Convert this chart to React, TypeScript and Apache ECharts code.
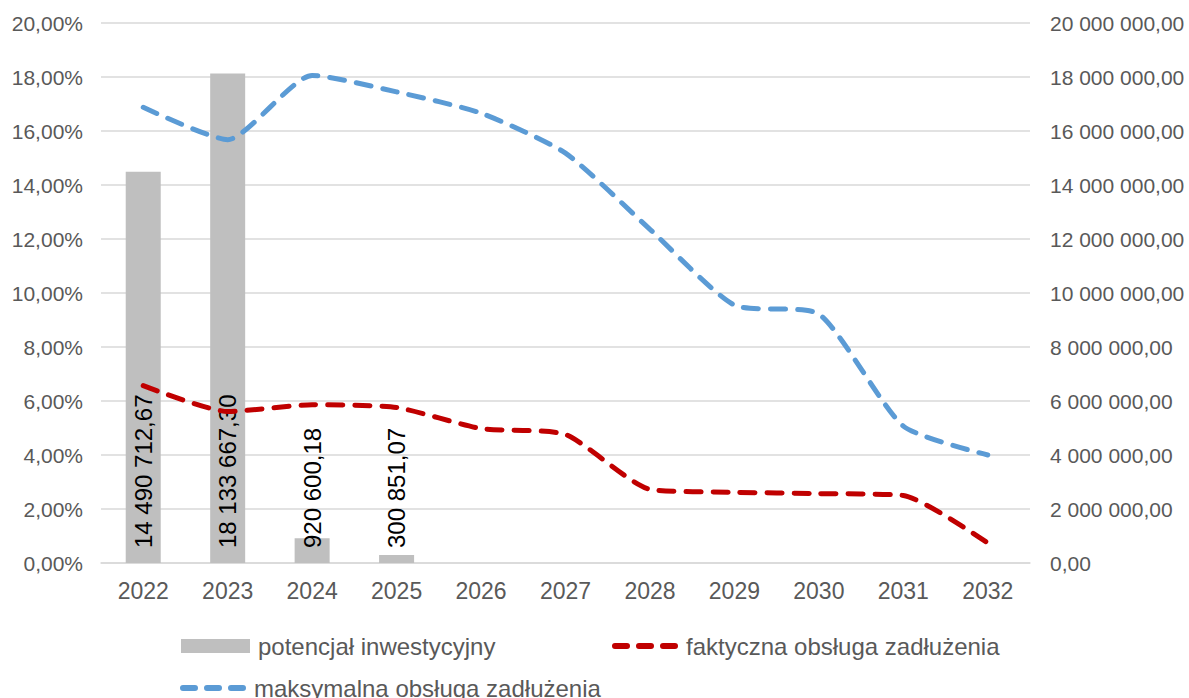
import React, { useEffect, useRef } from "react";
import * as echarts from "echarts";

const categories = ["2022", "2023", "2024", "2025", "2026", "2027", "2028", "2029", "2030", "2031", "2032"];
const potencjal = [14490712.67, 18133667.3, 920600.18, 300851.07, null, null, null, null, null, null, null];
const faktyczna = [6.57, 5.61, 5.86, 5.76, 4.98, 4.76, 2.73, 2.62, 2.57, 2.5, 0.74];
const maksymalna = [16.88, 15.68, 18.06, 17.45, 16.66, 15.18, 12.36, 9.55, 9.22, 5.07, 4.0];

const FONT = "Liberation Sans, Arial, sans-serif";
const GREY = "#595959";

const cap = (x: number) =>
  `M${x + 3},0 h12 a3,3 0 0 1 0,6 h-12 a3,3 0 0 1 0,-6 z`;
const DASH_ICON = "path://" + cap(0) + " " + cap(24) + " " + cap(48);

function fmtMoney(v: number): string {
  const fixed = Math.abs(v).toFixed(2);
  const [int, dec] = fixed.split(".");
  const withSp = int.replace(/\B(?=(\d{3})+(?!\d))/g, " ");
  return withSp + "," + dec;
}

export default function App() {
  const ref = useRef<HTMLDivElement>(null);
  useEffect(() => {
    if (!ref.current) return;
    const chart = echarts.init(ref.current, null, { renderer: "svg" });
    const dash = [15, 12];
    const legText = { color: GREY, fontSize: 24, fontFamily: FONT, padding: [0, 0, 0, 3] };
    chart.setOption({
      animation: false,
      backgroundColor: "#ffffff",
      textStyle: { fontFamily: FONT },
      grid: { left: 101, right: 159, top: 23, bottom: 135 },
      legend: [
        {
          data: [{ name: "potencjał inwestycyjny", icon: "rect" }],
          left: 176, top: 629, itemWidth: 69, itemHeight: 14,
          textStyle: legText,
        },
        {
          data: [{ name: "faktyczna obsługa zadłużenia", icon: DASH_ICON }],
          left: 607, top: 629, itemWidth: 66, itemHeight: 6,
          textStyle: legText,
        },
        {
          data: [{ name: "maksymalna obsługa zadłużenia", icon: DASH_ICON }],
          left: 175, top: 671, itemWidth: 66, itemHeight: 6,
          textStyle: legText,
        },
      ],
      xAxis: {
        type: "category",
        data: categories,
        axisLine: { lineStyle: { color: "#D9D9D9", width: 1.5 } },
        axisTick: { show: false },
        axisLabel: { color: GREY, fontSize: 23, margin: 16, fontFamily: FONT },
      },
      yAxis: [
        {
          type: "value",
          min: 0, max: 20, interval: 2,
          axisLabel: {
            color: GREY, fontSize: 21, margin: 18, fontFamily: FONT,
            formatter: (v: number) => v.toFixed(2).replace(".", ",") + "%",
          },
          splitLine: { lineStyle: { color: "#D9D9D9", width: 1.5 } },
          axisLine: { show: false },
          axisTick: { show: false },
        },
        {
          type: "value",
          min: 0, max: 20000000, interval: 2000000,
          position: "right",
          axisLabel: {
            color: GREY, fontSize: 21, margin: 20, fontFamily: FONT,
            formatter: (v: number) => fmtMoney(v),
          },
          splitLine: { show: false },
          axisLine: { show: false },
          axisTick: { show: false },
        },
      ],
      series: [
        {
          name: "potencjał inwestycyjny",
          type: "bar",
          yAxisIndex: 1,
          data: potencjal,
          barWidth: 35,
          itemStyle: { color: "#BFBFBF" },
          label: {
            show: true,
            position: "insideBottom",
            rotate: 90,
            align: "left",
            verticalAlign: "middle",
            distance: 15,
            color: "#000000",
            fontSize: 24,
            fontFamily: FONT,
            formatter: (p: any) => fmtMoney(p.value),
          },
          z: 1,
        },
        {
          name: "faktyczna obsługa zadłużenia",
          type: "line",
          yAxisIndex: 0,
          data: faktyczna,
          smooth: 0.2,
          symbol: "none",
          lineStyle: { color: "#C00000", width: 5, type: dash, cap: "round" },
          itemStyle: { color: "#C00000" },
          z: 3,
        },
        {
          name: "maksymalna obsługa zadłużenia",
          type: "line",
          yAxisIndex: 0,
          data: maksymalna,
          smooth: 0.2,
          symbol: "none",
          lineStyle: { color: "#5B9BD5", width: 5, type: dash, cap: "round" },
          itemStyle: { color: "#5B9BD5" },
          z: 3,
        },
      ],
    });
    return () => chart.dispose();
  }, []);
  return (
    <div
      ref={ref}
      style={{ position: "fixed", left: 0, top: 0, width: 1189, height: 698 }}
    />
  );
}
